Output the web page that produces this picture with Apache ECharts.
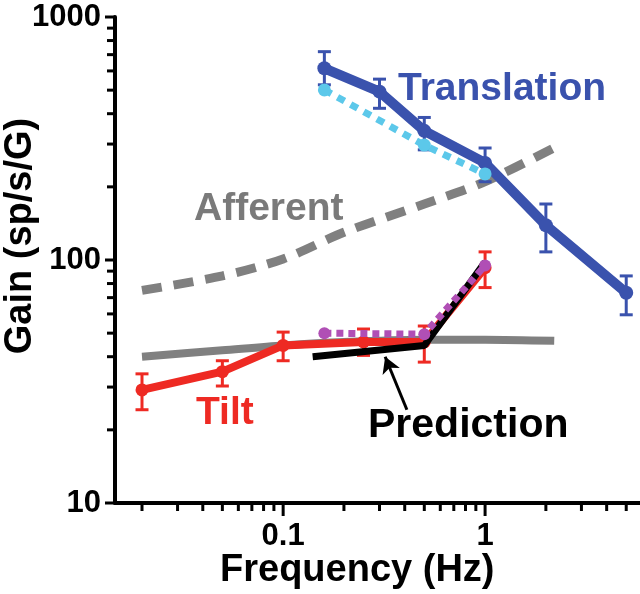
<!DOCTYPE html>
<html><head><meta charset="utf-8">
<script src="https://cdn.jsdelivr.net/npm/echarts@6/dist/echarts.min.js"></script>
<style>html,body{margin:0;padding:0;background:#fff}#c{width:640px;height:594px}</style>
</head><body><div id="c"></div>
<script>
// ---- data ----
const transFreq = [0.16, 0.3, 0.5, 1, 2, 5];
const transGain = [615, 493, 340, 251, 139, 73.3];
const transHigh = [720, 555, 386, 289, 170, 86];
const transLow  = [526, 421, 284, 210, 108, 59.5];

const transPredFreq = [0.16, 0.5, 1];
const transPredGain = [501, 297, 226];

const tiltFreq = [0.02, 0.05, 0.1, 0.25, 0.5, 1];
const tiltGain = [29.2, 34.7, 44.5, 46, 46, 93];
const tiltHigh = [34, 38.5, 50.5, 52, 53.5, 108];
const tiltLow  = [24.2, 30.3, 38.5, 40.5, 38, 77];

const tiltPredFreq = [0.16, 0.5, 1];
const tiltPredGain = [50, 49.5, 95];

const predFreq = [0.14, 0.5, 1];
const predGain = [40, 44.5, 98];

const affFreq = [0.02, 0.05, 0.1, 0.2, 0.5, 1, 2.2];
const affGain = [75, 86, 101, 130, 170, 210, 290];

const flatFreq = [0.02, 0.05, 0.1, 0.2, 0.5, 1, 2.2];
const flatGain = [40, 42.5, 44.5, 46, 47, 47, 46.5];

const arrowFrom = [0.41, 24.2];
const arrowTo = [0.32, 40];

const xMajorTicks = [0.1, 1];
const xMinorTicks = [0.02,0.03,0.04,0.05,0.06,0.07,0.08,0.09,0.2,0.3,0.4,0.5,0.6,0.7,0.8,0.9,2,3,4,5];
const yMajorTicks = [10, 100, 1000];
const yMinorTicks = [20,30,40,50,60,70,80,90,200,300,400,500,600,700,800,900];

// ---- styles ----
const FONT = '"Liberation Sans", Arial, sans-serif';
const BLUE = '#3a52ad', LBLUE = '#5cc8ea', RED = '#ee2a23', GRAY = '#808080', PURPLE = '#b04fb5';
const xMin = 0.0147, xMax = 5.85, yMin = 10, yMax = 1000;

const zip = (a, b) => a.map((v, i) => [v, b[i]]);

function errBars(xs, lo, hi, color, z) {
  return {
    type: 'custom', z: z, silent: true,
    renderItem: function (params, api) {
      const x = api.value(0), l = api.value(1), h = api.value(2);
      const p1 = api.coord([x, h]), p2 = api.coord([x, l]);
      const w = 6.5;
      const st = { stroke: color, lineWidth: 3 };
      return { type: 'group', children: [
        { type: 'line', shape: { x1: p1[0], y1: p1[1], x2: p2[0], y2: p2[1] }, style: st },
        { type: 'line', shape: { x1: p1[0] - w, y1: p1[1], x2: p1[0] + w, y2: p1[1] }, style: st },
        { type: 'line', shape: { x1: p2[0] - w, y1: p2[1], x2: p2[0] + w, y2: p2[1] }, style: st }
      ]};
    },
    data: xs.map((x, i) => [x, lo[i], hi[i]])
  };
}

function xTicks(values, len) {
  return {
    type: 'custom', silent: true, z: 20, clip: false,
    renderItem: function (params, api) {
      const cs = params.coordSys;
      const p = api.coord([api.value(0), api.value(1)]);
      return { type: 'line', shape: { x1: p[0], y1: cs.y + cs.height, x2: p[0], y2: cs.y + cs.height + len },
               style: { stroke: '#000', lineWidth: 3 } };
    },
    data: values.map(v => [v, 50])
  };
}

const option = {
  animation: false,
  grid: { left: 115, right: 0, top: 17, bottom: 91, containLabel: false },
  xAxis: {
    type: 'log', logBase: 10, min: xMin, max: xMax,
    axisLine: { show: true, lineStyle: { color: '#000', width: 4 } },
    axisTick: { show: false },
    axisLabel: { show: true, customValues: xMajorTicks, margin: 18, color: '#000', fontFamily: FONT, fontWeight: 'bold', fontSize: 31,
      formatter: v => String(+(+v).toPrecision(3)) },
    splitLine: { show: false }
  },
  yAxis: {
    type: 'log', logBase: 10, min: yMin, max: yMax,
    axisLine: { show: true, lineStyle: { color: '#000', width: 4 } },
    axisTick: { show: false },
    axisLabel: { show: true, customValues: yMajorTicks, margin: 14, color: '#000', fontFamily: FONT, fontWeight: 'bold', fontSize: 31,
      formatter: v => String(Math.round(v)) },
    splitLine: { show: false }
  },
  series: [
    xTicks(xMinorTicks, 8),
    xTicks(xMajorTicks, 13),
    { type: 'line', name: 'flat', data: zip(flatFreq, flatGain), smooth: 0.3, showSymbol: false, z: 1,
      lineStyle: { color: GRAY, width: 8 }, silent: true },
    { type: 'line', name: 'Afferent', data: zip(affFreq, affGain), smooth: 0.3, showSymbol: false, z: 2,
      lineStyle: { color: GRAY, width: 9, type: [20, 12], cap: 'butt' }, silent: true },
    errBars(tiltFreq, tiltLow, tiltHigh, RED, 3),
    { type: 'line', name: 'Tilt', data: zip(tiltFreq, tiltGain), z: 4, symbol: 'circle', symbolSize: 13,
      itemStyle: { color: RED }, lineStyle: { color: RED, width: 8 } },
    { type: 'line', name: 'Prediction', data: zip(predFreq, predGain), showSymbol: false, z: 5,
      lineStyle: { color: '#000', width: 7 }, silent: true,
      markLine: { silent: true, symbol: ['none', 'arrow'], symbolSize: [14, 16], label: { show: false },
        lineStyle: { color: '#000', width: 3, type: 'solid' },
        data: [[{ coord: arrowFrom }, { coord: arrowTo }]] } },
    { type: 'line', name: 'TiltPred', data: zip(tiltPredFreq, tiltPredGain), z: 6, symbol: 'circle', symbolSize: 12,
      itemStyle: { color: PURPLE }, lineStyle: { color: PURPLE, width: 7, type: [7, 5] } },
    errBars(transFreq, transLow, transHigh, BLUE, 7),
    { type: 'line', name: 'Translation', data: zip(transFreq, transGain), z: 8, symbol: 'circle', symbolSize: 14,
      itemStyle: { color: BLUE }, lineStyle: { color: BLUE, width: 10 } },
    { type: 'line', name: 'TransPred', data: zip(transPredFreq, transPredGain), z: 9, symbol: 'circle', symbolSize: 13,
      itemStyle: { color: LBLUE }, lineStyle: { color: LBLUE, width: 7, type: [8, 7] } }
  ],
  graphic: [
    { type: 'text', left: 398, top: 70, style: { text: 'Translation', fill: BLUE, font: 'bold 39px ' + FONT } },
    { type: 'text', left: 194, top: 190, style: { text: 'Afferent', fill: '#7a7a7a', font: 'bold 39px ' + FONT } },
    { type: 'text', left: 196, top: 394, style: { text: 'Tilt', fill: RED, font: 'bold 39px ' + FONT } },
    { type: 'text', left: 368, top: 405, style: { text: 'Prediction', fill: '#000', font: 'bold 41px ' + FONT } },
    { type: 'text', left: 220, top: 552, style: { text: 'Frequency (Hz)', fill: '#000', font: 'bold 38px ' + FONT } },
    { type: 'text', x: 21, y: 236, rotation: Math.PI / 2,
      style: { text: 'Gain (sp/s/G)', fill: '#000', font: 'bold 38px ' + FONT, align: 'center', verticalAlign: 'middle' } }
  ]
};

const chart = echarts.init(document.getElementById('c'), null, { renderer: 'canvas' });
chart.setOption(option);

// y-axis ticks, positioned through the chart's own y scale
const gridLeft = chart.convertToPixel({ gridIndex: 0 }, [xMin, yMin])[0];
const tickEls = [];
yMinorTicks.concat(yMajorTicks).forEach(function (v) {
  const y = chart.convertToPixel({ gridIndex: 0 }, [0.1, v])[1];
  const len = yMajorTicks.indexOf(v) >= 0 ? 10 : 8;
  tickEls.push({ type: 'line', z: 100, silent: true,
    shape: { x1: gridLeft - len, y1: y, x2: gridLeft, y2: y },
    style: { stroke: '#000', lineWidth: 3 } });
});
chart.setOption({ graphic: option.graphic.concat(tickEls) });
</script>
</body></html>
